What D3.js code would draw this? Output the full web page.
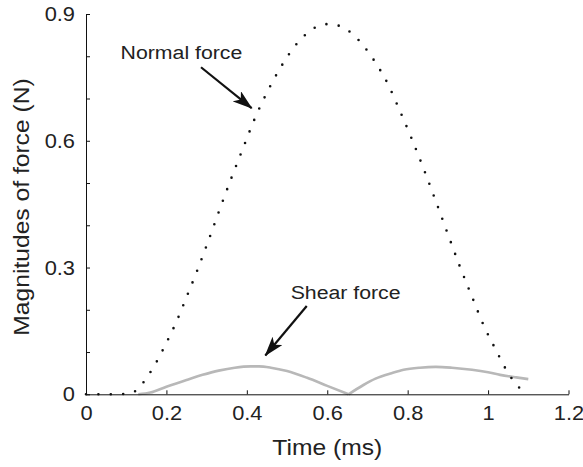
<!DOCTYPE html>
<html>
<head>
<meta charset="utf-8">
<script src="https://cdn.jsdelivr.net/npm/d3@7.9.0/dist/d3.min.js"></script>
<style>
  body { margin: 0; background: #fff; }
  svg text { font-family: "Liberation Sans", Arial, Helvetica, sans-serif; fill: #222; }
</style>
</head>
<body>
<svg id="chart" width="583" height="467"></svg>
<script>
// normal force (dotted)
const normalTime  = [0, 0.05, 0.10, 0.125, 0.15, 0.175, 0.20, 0.225, 0.25, 0.275, 0.30, 0.33, 0.36, 0.39, 0.42,
                     0.45, 0.48, 0.51, 0.54, 0.57, 0.60, 0.63, 0.66, 0.69, 0.72, 0.75, 0.78, 0.81, 0.84, 0.87,
                     0.90, 0.93, 0.96, 0.99, 1.02, 1.05, 1.085];
const normalForce = [0, 0, 0.001, 0.009, 0.038, 0.076, 0.122, 0.172, 0.230, 0.289, 0.352, 0.431, 0.508, 0.581, 0.653,
                     0.714, 0.767, 0.812, 0.846, 0.868, 0.876, 0.872, 0.855, 0.825, 0.785, 0.736, 0.672, 0.605, 0.533, 0.457,
                     0.379, 0.302, 0.231, 0.161, 0.104, 0.050, 0.008];

// shear force (grey) – two humps, touching zero at ~0.653 ms
const shearTime  = [0.13, 0.16, 0.20, 0.25, 0.29, 0.33, 0.37, 0.41, 0.43, 0.46, 0.50, 0.55, 0.60, 0.653,
                    0.69, 0.72, 0.76, 0.79, 0.83, 0.87, 0.91, 0.96, 1.00, 1.03, 1.07, 1.10];
const shearForce = [0, 0.004, 0.018, 0.034, 0.046, 0.056, 0.063, 0.066, 0.066, 0.063, 0.055, 0.039, 0.020, 0,
                    0.022, 0.037, 0.050, 0.058, 0.063, 0.065, 0.063, 0.058, 0.052, 0.046, 0.040, 0.036];
const shearCusp  = 0.653;

const xTicks      = [0, 0.2, 0.4, 0.6, 0.8, 1, 1.2];
const yTicks      = [0, 0.1, 0.2, 0.3, 0.4, 0.5, 0.6, 0.7, 0.8, 0.9];
const yTickLabels = [0, 0.3, 0.6, 0.9];

// annotations: [text x, text y, arrow tail x, tail y, arrow tip x, tip y] in data units
const normalNote = ['Normal force', 0.086, 0.794, 0.286, 0.774, 0.412, 0.677];
const shearNote  = ['Shear force', 0.509, 0.225, 0.549, 0.209, 0.446, 0.092];

const SX = 1.12;   // the original type runs a little wider than Arial

const svg = d3.select('#chart');
const x = d3.scaleLinear().domain([0, 1.2]).range([86, 568.5]);
const y = d3.scaleLinear().domain([0, 0.9]).range([394.3, 14]);

// put text at (px,py) with a horizontal stretch
function stretched(sel, size, px, py, rot) {
  sel.attr('font-size', size)
     .attr('x', 0).attr('y', 0)
     .attr('transform', `translate(${px},${py})${rot ? ` rotate(${rot})` : ''} scale(${SX},1)`);
  return sel;
}

svg.append('defs').append('marker')
    .attr('id', 'head')
    .attr('viewBox', '0 0 20 13')
    .attr('refX', 19).attr('refY', 6.5)
    .attr('markerWidth', 20).attr('markerHeight', 13)
    .attr('markerUnits', 'userSpaceOnUse')
    .attr('orient', 'auto')
  .append('path')
    .attr('d', 'M0,0 L20,6.5 L0,13 L5,6.5 Z')
    .attr('fill', '#111');

// shear force, split at the cusp so both sides stay sharp
const shear = shearTime.map((t, i) => ({ t, v: shearForce[i] }));
const lineS = d3.line().x(d => x(d.t)).y(d => y(d.v)).curve(d3.curveMonotoneX);
[shear.filter(d => d.t <= shearCusp), shear.filter(d => d.t >= shearCusp)].forEach(part => {
  svg.append('path')
      .attr('d', lineS(part))
      .attr('fill', 'none')
      .attr('stroke', '#b8b8b8')
      .attr('stroke-width', 2.6);
});

// axes
const xAxis = svg.append('g')
    .attr('transform', `translate(0,${y(0)})`)
    .call(d3.axisBottom(x).tickValues(xTicks).tickSizeInner(-4).tickSizeOuter(0)
      .tickFormat(d3.format('~g')));
const yAxis = svg.append('g')
    .attr('transform', `translate(${x(0)},0)`)
    .call(d3.axisLeft(y).tickValues(yTicks).tickSizeInner(-4).tickSizeOuter(0)
      .tickFormat(d => yTickLabels.some(v => Math.abs(v - d) < 1e-9) ? d3.format('~g')(d) : ''));
[xAxis, yAxis].forEach(g => {
  g.attr('font-family', null).attr('font-size', null);
  g.selectAll('path, line').attr('stroke', '#111');
});
xAxis.selectAll('text').attr('dy', null).each(function () { stretched(d3.select(this), 19.5, 0, 26); });
yAxis.selectAll('text').attr('dy', '0.34em').each(function () { stretched(d3.select(this), 19.5, -11, 0); });

// normal force, dotted
const normal = normalTime.map((t, i) => ({ t, v: normalForce[i] }));
svg.append('path')
    .attr('d', lineS(normal))
    .attr('fill', 'none')
    .attr('stroke', '#111')
    .attr('stroke-width', 2.6)
    .attr('stroke-linecap', 'round')
    .attr('stroke-dasharray', '0,12.4');

// axis titles
stretched(svg.append('text'), 22, (x(0) + x(1.2)) / 2, 455)
    .attr('text-anchor', 'middle')
    .text('Time (ms)');
stretched(svg.append('text'), 22, 29.3, 207, -90)
    .attr('text-anchor', 'middle')
    .text('Magnitudes of force (N)');

// annotations with arrows
[normalNote, shearNote].forEach(([label, tx, ty, ax, ay, bx, by]) => {
  stretched(svg.append('text'), 19, x(tx), y(ty)).text(label);
  svg.append('line')
      .attr('x1', x(ax)).attr('y1', y(ay))
      .attr('x2', x(bx)).attr('y2', y(by))
      .attr('stroke', '#111').attr('stroke-width', 2.2)
      .attr('marker-end', 'url(#head)');
});
</script>
</body>
</html>
